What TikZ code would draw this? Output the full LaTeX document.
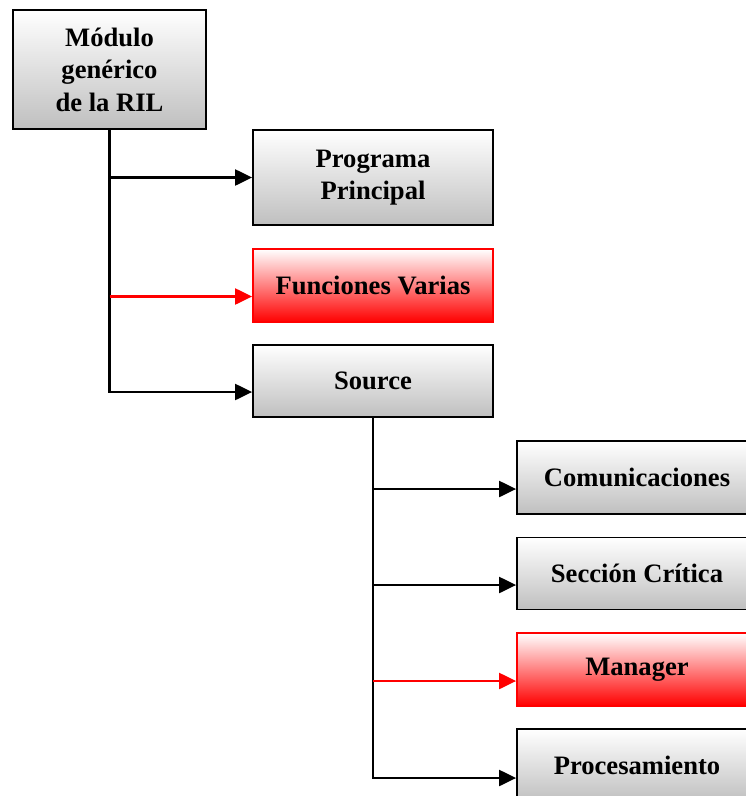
\documentclass[tikz,border=0pt]{standalone}
\usepackage{fontspec}
\setmainfont{Liberation Serif}
\usetikzlibrary{arrows.meta}
\begin{document}
\begin{tikzpicture}[x=1pt,y=-1pt,
  box/.style={draw=black, line width=1.8pt, top color=white, bottom color=gray!50,
    minimum width=240pt, align=center, inner sep=2pt,
    font=\bfseries\fontsize{26.6}{32.5}\selectfont},
  redbox/.style={box, draw=red, bottom color=red},
  conn/.style={line width=2.2pt, -{Triangle[length=17pt,width=16pt]}},
  connred/.style={conn, draw=red, fill=red}]
\useasboundingbox (0,0) rectangle (746,796);
\clip (0,0) rectangle (746,796);

% top level module and its three children
\node[box, minimum width=193pt, minimum height=119pt] (root) at (109.5,69.5)
  {Módulo\\genérico\\de la RIL};
\node[box, minimum height=95pt] (prog) at (373,177.5) {Programa\\Principal};
\node[redbox, minimum height=73pt] (func) at (373,285.5) {Funciones Varias};
\node[box, minimum height=72pt] (src) at (373,381) {Source};

% children of Source
\node[box, minimum height=73pt] (com) at (637,477.5) {Comunicaciones};
\node[box, minimum height=72pt] (sec) at (637,573.5) {Sección Crítica};
\node[redbox, minimum height=73pt] (man) at (637,669.5) {Manager};
\node[box, minimum height=73pt] (proc) at (637,765.5) {Procesamiento};

% connector end points on the boxes' left sides
\coordinate (fa) at ([yshift=-11pt]func.west);
\coordinate (sa) at ([yshift=-11pt]src.west);
\coordinate (ca) at ([yshift=-11.5pt]com.west);
\coordinate (ea) at ([yshift=-11.5pt]sec.west);
\coordinate (ma) at ([yshift=-11.5pt]man.west);
\coordinate (pa) at ([yshift=-12.5pt]proc.west);

% tree from the top module
\draw[conn] (root.south) |- (sa);
\draw[conn] (root.south |- prog.west) -- (prog.west);
\draw[connred] (root.south |- fa) -- (fa);

% tree from Source
\draw[conn] (src.south) |- (pa);
\draw[conn] (src.south |- ca) -- (ca);
\draw[conn] (src.south |- ea) -- (ea);
\draw[connred] (src.south |- ma) -- (ma);
\end{tikzpicture}
\end{document}
